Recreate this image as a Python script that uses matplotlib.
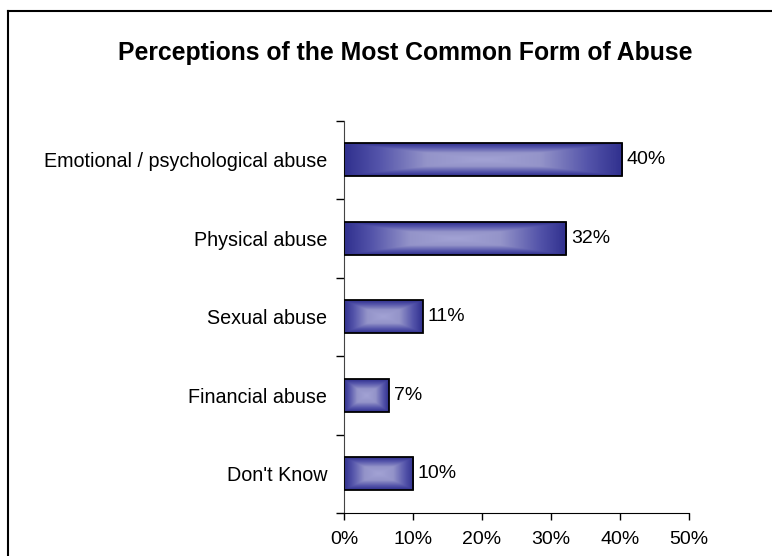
import numpy as np
import matplotlib
matplotlib.use('Agg')
from matplotlib import pyplot as plt
from matplotlib.colors import LinearSegmentedColormap
from matplotlib.lines import Line2D

plt.rcParams['font.family'] = ['Liberation Sans', 'DejaVu Sans']

categories = ['Emotional / psychological abuse', 'Physical abuse', 'Sexual abuse',
              'Financial abuse', "Don't Know"]
values = [40.3, 32.2, 11.4, 6.5, 10.0]
labels = ['40%', '32%', '11%', '7%', '10%']
xticks = [0, 10, 20, 30, 40, 50]

fig = plt.figure(figsize=(7.72, 5.56), dpi=100)
ax = fig.add_axes([0.4456, 0.0773, 0.4469, 0.7056])

# rectangular gradient: dark navy at the edges, light lavender in the middle
cmap = LinearSegmentedColormap.from_list(
    'bar', [(0.0, '#A2A2D4'), (0.4, '#9494C9'), (0.75, '#5454AA'), (1.0, '#30308E')])
gy, gx = np.mgrid[-1:1:60j, -1:1:200j]
grad = np.maximum(np.abs(gx), np.abs(gy))

bh = 0.42
for i, v in enumerate(values):
    ax.imshow(grad, cmap=cmap, extent=[0, v, i + bh / 2, i - bh / 2],
              aspect='auto', interpolation='bilinear', zorder=2)
    ax.barh(i, v, height=bh, facecolor='none', edgecolor='black', linewidth=1.3, zorder=3)
    ax.text(v + 0.7, i, labels[i], va='center', ha='left', fontsize=14)

ax.set_xlim(0, 50)
ax.set_ylim(4.5, -0.5)
ax.set_xticks(xticks)
ax.set_xticklabels([f'{t}%' for t in xticks], fontsize=14)
ax.set_yticks(range(len(categories)))
ax.set_yticklabels(categories, fontsize=14.2)
ax.set_yticks(np.arange(-0.5, 5, 1), minor=True)
ax.tick_params(axis='y', which='major', length=0, pad=12)
ax.tick_params(axis='y', which='minor', length=6, width=1, direction='out')
ax.tick_params(axis='x', length=5, width=1, direction='out', pad=8)
for s in ['top', 'right']:
    ax.spines[s].set_visible(False)
ax.spines['left'].set_color('#444444')
ax.spines['bottom'].set_color('black')

fig.text(0.525, 0.905, 'Perceptions of the Most Common Form of Abuse',
         ha='center', va='center', fontsize=17.8, fontweight='bold')

# chart frame (top and left edge)
fig.add_artist(Line2D([0.0105, 1.0], [0.980, 0.980], color='black', linewidth=1.5))
fig.add_artist(Line2D([0.0105, 0.0105], [0.0, 0.980], color='black', linewidth=1.5))

fig.savefig('out.png', dpi=100)
